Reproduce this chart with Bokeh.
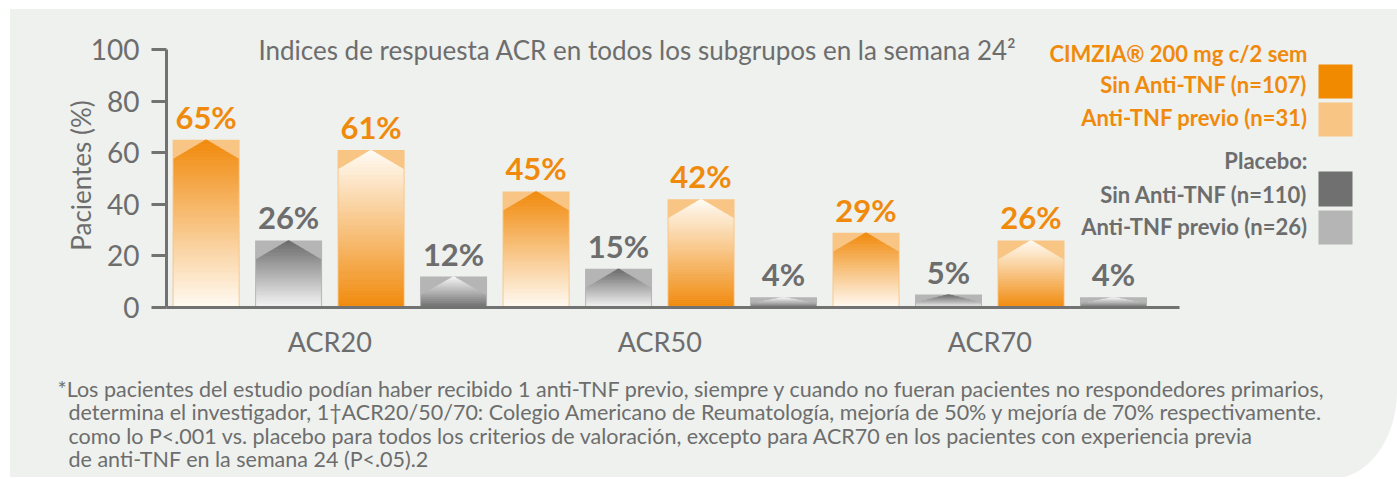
import numpy as np
from bokeh.plotting import figure
from bokeh.models import Range1d, FixedTicker, Label, BoxAnnotation, ColumnDataSource
from bokeh.core.properties import value
from bokeh.embed import file_html
from bokeh.resources import INLINE

# ---------------- data ----------------
categories = ["ACR20", "ACR50", "ACR70"]
cimzia_sin_anti_tnf = [65, 45, 29]
placebo_sin_anti_tnf = [26, 15, 5]
cimzia_anti_tnf_previo = [61, 42, 26]
placebo_anti_tnf_previo = [12, 4, 4]
y_ticks = [0, 20, 40, 60, 80, 100]

title_text = "Indices de respuesta ACR en todos los subgrupos en la semana 24\u00b2"
y_label = "Pacientes (%)"
legend_cimzia = ["CIMZIA\u00ae 200 mg c/2 sem", "Sin Anti-TNF (n=107)", "Anti-TNF previo (n=31)"]
legend_placebo = ["Placebo:", "Sin Anti-TNF (n=110)", "Anti-TNF previo (n=26)"]
footnotes = [
    "*Los pacientes del estudio podían haber recibido 1 anti-TNF previo, siempre y cuando no fueran pacientes no respondedores primarios,",
    "determina el investigador, 1\u2020ACR20/50/70: Colegio Americano de Reumatología, mejoría de 50% y mejoría de 70% respectivamente.",
    "como lo P<.001 vs. placebo para todos los criterios de valoración, excepto para ACR70 en los pacientes con experiencia previa",
    "de anti-TNF en la semana 24 (P<.05).2",
]

# ---------------- style ----------------
ORANGE = (241, 138, 12)
PEACH = "#f8c585"
DGRAY = (107, 107, 107)
LGRAY = "#b5b5b5"
WHITE_O = (255, 252, 246)
WHITE_G = (247, 247, 247)
ORANGE_TXT = "#f08a0c"
GRAY_TXT = "#6d6d6d"
AXIS_COL = "#727272"
FONT = "Lato"
BASE_FIX = 0.42   # empirical baseline correction (in em)

W, H = 1397, 479
AX_L, AX_R, AX_T, AX_B = 166, 1179, 49, 307   # pixel extent of the axes
X_START, X_END = -0.48, 11.8                   # data values at AX_L / AX_R
Y_START, Y_END = 0, 100                        # data values at AX_B / AX_T
BAR_W = 0.812


def px_x(px):
    return X_START + (px - AX_L) * (X_END - X_START) / (AX_R - AX_L)


def px_y(py):
    return Y_START + (AX_B - py) * (Y_END - Y_START) / (AX_B - AX_T)


def base_y(py, fs):
    return px_y(py - BASE_FIX * fs)


UNIT_PX = (AX_B - AX_T) / (Y_END - Y_START)

p = figure(width=W, height=H, output_backend="svg", toolbar_location=None,
           x_range=Range1d(px_x(0), px_x(W)), y_range=Range1d(px_y(H), px_y(0)),
           min_border_left=0, min_border_right=0, min_border_top=0, min_border_bottom=0,
           background_fill_color=None, border_fill_color=None,
           outline_line_color=None)
p.styles = {
    "background": "linear-gradient(#eef1ed, #eef1ed) 10px 9px / 1387px 468px no-repeat",
    "border-radius": "0 0 66px 0 / 0 0 88px 0",
}
p.grid.visible = False

# ---------------- bars ----------------
series = [
    (cimzia_sin_anti_tnf, ORANGE, PEACH, WHITE_O, True, ORANGE_TXT),
    (placebo_sin_anti_tnf, DGRAY, LGRAY, WHITE_G, True, GRAY_TXT),
    (cimzia_anti_tnf_previo, ORANGE, PEACH, WHITE_O, False, ORANGE_TXT),
    (placebo_anti_tnf_previo, DGRAY, LGRAY, WHITE_G, False, GRAY_TXT),
]
n_series = len(series)


def mix(c_dark, c_white, f):
    return "#%02x%02x%02x" % tuple(int(round(w + (d - w) * f)) for d, w in zip(c_dark, c_white))


rect = dict(x=[], top=[], light=[])
poly = dict(xs=[], ys=[], color=[])
lab = dict(x=[], y=[], text=[], color=[])
for k, (vals, dark, light, white, dark_top, tcol) in enumerate(series):
    for g, v in enumerate(vals):
        c = g * n_series + k
        rect["x"].append(c)
        rect["top"].append(v)
        rect["light"].append(light)
        lab["x"].append(c)
        lab["y"].append(v)
        lab["text"].append(f"{v}%")
        lab["color"].append(tcol)
        hw = BAR_W / 2 - 0.016
        d = min(19 / UNIT_PX, 0.6 * v)
        knee = v - d
        n1 = max(2, int(np.ceil(knee * UNIT_PX / 2)))
        n2 = max(2, int(np.ceil(d * UNIT_PX / 1.5)))
        ys_b = np.concatenate([np.linspace(0, knee, n1 + 1), np.linspace(knee, v, n2 + 1)[1:]])

        def wid(y, hw=hw, v=v, d=d, knee=knee):
            return hw if y <= knee else hw * (v - y) / d

        for y0, y1 in zip(ys_b[:-1], ys_b[1:]):
            t = ((y0 + y1) / 2) / v
            f = t if dark_top else 1 - t
            col = mix(dark, white, f)
            w0, w1 = wid(y0), wid(y1)
            poly["xs"].append([c - w0, c + w0, c + w1, c - w1])
            poly["ys"].append([y0, y0, y1, y1])
            poly["color"].append(col)

p.vbar(x="x", top="top", bottom=0, width=BAR_W, source=ColumnDataSource(rect),
       fill_color="light", line_color=None)
p.patches(xs="xs", ys="ys", source=ColumnDataSource(poly), fill_color="color",
          line_color="color", line_width=0.7)
VAL_FS = 31
p.text(x="x", y="y", text="text", source=ColumnDataSource(lab), text_color="color",
       text_font=value(FONT), text_font_style="bold", text_font_size=f"{VAL_FS}px",
       text_align="center", text_baseline="alphabetic",
       y_offset=-(10 + BASE_FIX * VAL_FS))

# ---------------- axes ----------------
ya = p.yaxis[0]
ya.fixed_location = px_x(AX_L)
ya.bounds = (Y_START, Y_END)
ya.ticker = FixedTicker(ticks=y_ticks)
ya.axis_line_color = AXIS_COL
ya.axis_line_width = 3
ya.major_tick_line_color = AXIS_COL
ya.major_tick_line_width = 3
ya.major_tick_out = 15
ya.major_tick_in = 0
ya.minor_tick_line_color = None
ya.major_label_text_font = FONT
ya.major_label_text_font_size = "28px"
ya.major_label_text_color = GRAY_TXT
ya.major_label_standoff = 12

xa = p.xaxis[0]
xa.fixed_location = Y_START
xa.bounds = (px_x(AX_L), px_x(AX_R))
centers = [g * n_series + (n_series - 1) / 2 for g in range(len(categories))]
xa.ticker = FixedTicker(ticks=centers)
xa.major_label_overrides = {c: name for c, name in zip(centers, categories)}
xa.axis_line_color = AXIS_COL
xa.axis_line_width = 3
xa.major_tick_line_color = None
xa.minor_tick_line_color = None
xa.major_tick_out = 0
xa.major_label_text_font = FONT
xa.major_label_text_font_size = "27px"
xa.major_label_text_color = GRAY_TXT
xa.major_label_standoff = 17

p.add_layout(Label(x=px_x(80), y=px_y(175), text=y_label, text_font=FONT, angle=np.pi / 2,
                   text_font_size="26px", text_color=GRAY_TXT, text_align="center",
                   text_baseline="middle"))

# ---------------- title ----------------
TITLE_FS = 26
p.add_layout(Label(x=px_x(637), y=base_y(60, TITLE_FS), text=title_text, text_font=FONT,
                   text_font_size=f"{TITLE_FS}px", text_color=GRAY_TXT, text_align="center",
                   text_baseline="alphabetic"))

# ---------------- legend ----------------
LEG_FS = 22
leg_base = [62, 93, 126, 169, 203, 235]
leg_cols = [ORANGE_TXT] * 3 + [GRAY_TXT] * 3
for txt, b, col in zip(legend_cimzia + legend_placebo, leg_base, leg_cols):
    p.add_layout(Label(x=px_x(1307), y=base_y(b, LEG_FS), text=txt, text_font=FONT,
                       text_font_style="bold", text_font_size=f"{LEG_FS}px", text_color=col,
                       text_align="right", text_baseline="alphabetic"))

sw = [("#f28a00", 64, 98), (PEACH, 102, 136), ("#707070", 171, 206), (LGRAY, 210, 244)]
for col, t, b in sw:
    p.add_layout(BoxAnnotation(left=px_x(1318), right=px_x(1352), top=px_y(t), bottom=px_y(b),
                               fill_color=col, fill_alpha=1, line_color=None))

# ---------------- footnotes ----------------
FN_FS = 21.5
fn_x = [57, 68, 68, 68]
fn_base = [398, 421, 445, 468]
for txt, fx, b in zip(footnotes, fn_x, fn_base):
    p.add_layout(Label(x=px_x(fx), y=base_y(b, FN_FS), text=txt, text_font=FONT,
                       text_font_size=f"{FN_FS}px", text_color=GRAY_TXT, text_align="left",
                       text_baseline="alphabetic"))

open("out.html", "w").write(file_html(p, INLINE))
